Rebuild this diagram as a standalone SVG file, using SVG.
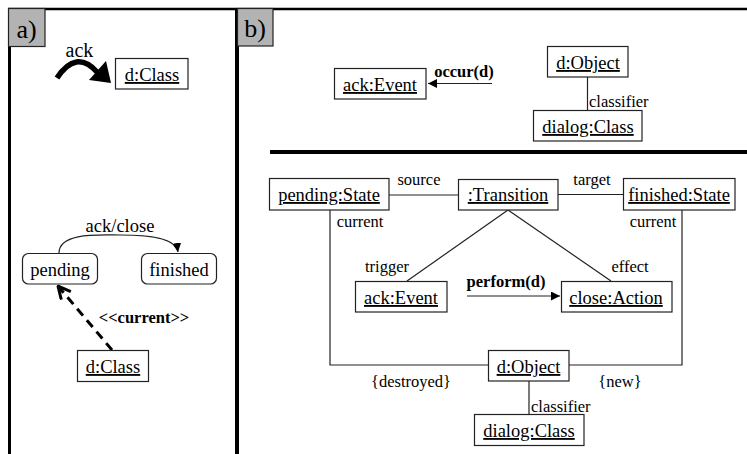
<svg xmlns="http://www.w3.org/2000/svg" width="747" height="454" viewBox="0 0 747 454">
<style>
text{font-family:"Liberation Serif",Tinos,"Times New Roman","DejaVu Serif",serif;fill:#000}
.box{fill:#fff;stroke:#222;stroke-width:1.2}
.lbl{font-size:18.5px;text-anchor:middle;text-decoration:underline}
.st{font-size:18.5px;text-anchor:middle}
.sm{font-size:16.5px}
.b{font-weight:bold;font-size:16.5px}
.ln{fill:none;stroke:#222;stroke-width:1.2}
.tag{fill:#b3b3b3;stroke:#222;stroke-width:1.2}
</style>
<defs>
<marker id="fa" viewBox="0 0 10 10" refX="10" refY="5" markerWidth="9" markerHeight="9" markerUnits="userSpaceOnUse" orient="auto">
<path d="M0,0 L10,5 L0,10 z" fill="#000"/>
</marker>
<marker id="oa" viewBox="0 0 12 12" refX="11" refY="6" markerWidth="15" markerHeight="15" markerUnits="userSpaceOnUse" orient="auto">
<path d="M1,1 L11,6 L1,11" fill="none" stroke="#000" stroke-width="2.4"/>
</marker>
</defs>
<rect width="747" height="454" fill="#fff"/>
<g id="frame">
<line x1="8" y1="9" x2="747" y2="9" stroke="#000" stroke-width="2.5"/>
<line x1="9.5" y1="8" x2="9.5" y2="454" stroke="#000" stroke-width="3"/>
<line x1="237" y1="8" x2="237" y2="454" stroke="#000" stroke-width="4"/>
<line x1="270" y1="152" x2="747" y2="152" stroke="#000" stroke-width="4"/>
<rect class="tag" x="8.5" y="8.5" width="36.5" height="38"/>
<text x="26.5" y="38" style="font-size:26px;text-anchor:middle">a)</text>
<rect class="tag" x="237.5" y="8.5" width="35.5" height="37.5"/>
<text x="255" y="37" style="font-size:26px;text-anchor:middle">b)</text>
</g>
<g id="connectors">
<path d="M57,78 Q76,49 97,72" fill="none" stroke="#000" stroke-width="5.5"/>
<path d="M89,80 L106,61 L111,83 z" fill="#000"/>
<path class="ln" d="M59,253 C59,232 100,235 120,235 C150,235 176,238 178,252" marker-end="url(#fa)"/>
<line x1="112" y1="350" x2="58" y2="286" stroke="#000" stroke-width="3" stroke-dasharray="9,6" marker-end="url(#oa)"/>
<line class="ln" x1="492" y1="83.5" x2="428" y2="83.5" marker-end="url(#fa)"/>
<line class="ln" x1="587.5" y1="77" x2="587.5" y2="110"/>
<line class="ln" x1="389" y1="195" x2="458" y2="195"/>
<line class="ln" x1="558" y1="194.5" x2="623" y2="194.5"/>
<line class="ln" x1="508" y1="210" x2="407" y2="281"/>
<line class="ln" x1="508" y1="210" x2="611" y2="281"/>
<line class="ln" x1="467" y1="296" x2="560" y2="296" marker-end="url(#fa)"/>
<path class="ln" d="M330,210 V365 H488"/>
<path class="ln" d="M682,210 V365 H569"/>
<line class="ln" x1="529" y1="381" x2="529" y2="414"/>
</g>
<g id="labels">
<text x="79.5" y="57" style="font-size:20px;text-anchor:middle">ack</text>
<text x="120" y="232" text-anchor="middle" style="font-size:18.5px">ack/close</text>
<text x="144" y="323" class="b" text-anchor="middle">&lt;&lt;current&gt;&gt;</text>
<text x="464" y="77" class="b" text-anchor="middle">occur(d)</text>
<text x="589" y="107" class="sm">classifier</text>
<text x="419" y="185" class="sm" text-anchor="middle">source</text>
<text x="592" y="185" class="sm" text-anchor="middle">target</text>
<text x="360" y="227" class="sm" text-anchor="middle">current</text>
<text x="653" y="227" class="sm" text-anchor="middle">current</text>
<text x="387" y="272" class="sm" text-anchor="middle">trigger</text>
<text x="630" y="272" class="sm" text-anchor="middle">effect</text>
<text x="506" y="287" class="b" text-anchor="middle">perform(d)</text>
<text x="411" y="387" class="sm" text-anchor="middle">{destroyed}</text>
<text x="620" y="387" class="sm" text-anchor="middle">{new}</text>
<text x="531" y="412" class="sm">classifier</text>
</g>
<g id="a-dclass-top"><rect class="box" x="115.5" y="58.5" width="72.5" height="30.5"/><text class="lbl" x="152" y="81">d:Class</text></g>
<g id="a-pending"><rect class="box" x="22.5" y="253.5" width="75" height="30.5" rx="6"/><text class="st" x="60" y="276">pending</text></g>
<g id="a-finished"><rect class="box" x="141.5" y="253.5" width="75" height="30.5" rx="6"/><text class="st" x="179" y="276">finished</text></g>
<g id="a-dclass-bottom"><rect class="box" x="77.5" y="350.5" width="71" height="31"/><text class="lbl" x="113" y="373">d:Class</text></g>
<g id="b-ackevent-top"><rect class="box" x="334.5" y="68.5" width="91.5" height="30.5"/><text class="lbl" x="380" y="91">ack:Event</text></g>
<g id="b-dobject-top"><rect class="box" x="547.5" y="46.5" width="80.5" height="30.5"/><text class="lbl" x="588" y="69">d:Object</text></g>
<g id="b-dialog-top"><rect class="box" x="533.5" y="110.5" width="108.5" height="30.5"/><text class="lbl" x="588" y="133">dialog:Class</text></g>
<g id="b-pending"><rect class="box" x="269.5" y="178.5" width="119.5" height="31.5"/><text class="lbl" x="329" y="201">pending:State</text></g>
<g id="b-transition"><rect class="box" x="458.5" y="179.5" width="99.5" height="30.5"/><text class="lbl" x="508" y="201">:Transition</text></g>
<g id="b-finished"><rect class="box" x="623.5" y="178.5" width="111.5" height="31.5"/><text class="lbl" x="679" y="201">finished:State</text></g>
<g id="b-ackevent"><rect class="box" x="355.5" y="281.5" width="91.5" height="30.5"/><text class="lbl" x="401" y="304">ack:Event</text></g>
<g id="b-closeaction"><rect class="box" x="561.5" y="281.5" width="110.5" height="30.5"/><text class="lbl" x="616" y="304">close:Action</text></g>
<g id="b-dobject"><rect class="box" x="488.5" y="350.5" width="80.5" height="30.5"/><text class="lbl" x="528.5" y="373">d:Object</text></g>
<g id="b-dialog"><rect class="box" x="474.5" y="414.5" width="109.5" height="31"/><text class="lbl" x="529" y="437">dialog:Class</text></g>
</svg>
